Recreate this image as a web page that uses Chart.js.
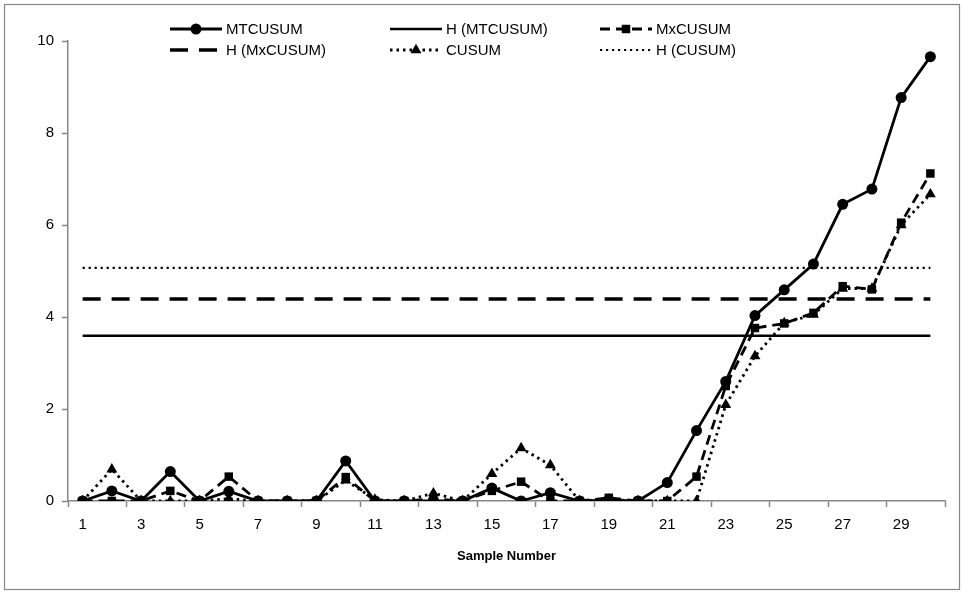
<!DOCTYPE html>
<html>
<head>
<meta charset="utf-8">
<script src="https://cdn.jsdelivr.net/npm/chart.js@4/dist/chart.umd.min.js"></script>
<style>
  html, body { margin: 0; padding: 0; background: #fff; }
  #wrap { width: 963px; height: 592px; }
</style>
</head>
<body>
<div id="wrap"><canvas id="c" width="963" height="592"></canvas></div>
<script>
// ---- data ----
const categories = ["1","2","3","4","5","6","7","8","9","10","11","12","13","14","15","16","17","18","19","20","21","22","23","24","25","26","27","28","29","30"];
const mtcusum = [0,0.22,0,0.64,0,0.21,0,0,0,0.87,0,0,0,0,0.28,0,0.18,0,0.02,0,0.4,1.53,2.6,4.03,4.59,5.15,6.45,6.78,8.77,9.66];
const mxcusum = [0,0,0,0.22,0,0.53,0,0,0,0.52,0,0,0.05,0,0.22,0.42,0,0,0.07,0,0,0.53,2.5,3.76,3.86,4.09,4.67,4.6,6.05,7.12];
const cusum   = [0,0.69,0,0,0,0.05,0,0,0,0.45,0.03,0,0.17,0,0.59,1.15,0.78,0,0.03,0,0,0,2.09,3.15,3.87,4.05,4.62,4.62,6.0,6.67];
const hMtcusum = 3.59;
const hMxcusum = 4.39;
const hCusum = 5.07;
const yTicks = [0,2,4,6,8,10];
const seriesNames = ["MTCUSUM","H (MTCUSUM)","MxCUSUM","H (MxCUSUM)","CUSUM","H (CUSUM)"];

const AXIS = '#868686';
const FONT = "'Liberation Sans', Arial, sans-serif";
const flat = v => categories.map(() => v);

const datasets = [
  { label: seriesNames[0], data: mtcusum, borderColor:'#000', backgroundColor:'#000', borderWidth:2.8,
    pointStyle:'circle', pointRadius:5.5, pointBorderWidth:0, borderDash:[] },
  { label: seriesNames[1], data: flat(hMtcusum), borderColor:'#000', backgroundColor:'#000', borderWidth:2.5,
    pointRadius:0, borderDash:[] },
  { label: seriesNames[2], data: mxcusum, borderColor:'#000', backgroundColor:'#000', borderWidth:2.8,
    pointStyle:'rect', pointRadius:6, pointBorderWidth:0, borderDash:[10,6] },
  { label: seriesNames[3], data: flat(hMxcusum), borderColor:'#000', backgroundColor:'#000', borderWidth:3.6,
    pointRadius:0, borderDash:[18,11] },
  { label: seriesNames[4], data: cusum, borderColor:'#000', backgroundColor:'#000', borderWidth:2.8,
    pointStyle:'triangle', pointRadius:6.3, pointBorderWidth:0, borderDash:[2.5,4] },
  { label: seriesNames[5], data: flat(hCusum), borderColor:'#000', backgroundColor:'#000', borderWidth:2.2,
    pointRadius:0, borderDash:[2.2,3.8] }
];
datasets.forEach(d => { d.tension = 0; d.fill = false; d.pointHoverRadius = d.pointRadius; });

const bgBorder = {
  id: 'bgBorder',
  beforeDraw(chart) {
    const ctx = chart.ctx;
    ctx.save();
    ctx.fillStyle = '#fff';
    ctx.fillRect(0, 0, chart.width, chart.height);
    ctx.strokeStyle = AXIS;
    ctx.lineWidth = 1.2;
    ctx.strokeRect(4.5, 4.5, 955, 585);
    ctx.restore();
  }
};

// legend laid out in 3 columns x 2 rows, as in the reference
const gridLegend = {
  id: 'gridLegend',
  afterDraw(chart) {
    const ctx = chart.ctx;
    const colX = [170, 390, 600];
    const rowY = [29, 50];
    const sampleLen = 52;
    ctx.save();
    ctx.font = "15px " + FONT;
    ctx.textBaseline = 'middle';
    ctx.textAlign = 'left';
    chart.data.datasets.forEach((ds, i) => {
      const x = colX[i % 3], y = rowY[Math.floor(i / 3)];
      ctx.save();
      ctx.strokeStyle = ds.borderColor;
      ctx.lineWidth = ds.borderWidth;
      ctx.setLineDash(ds.borderDash || []);
      ctx.beginPath();
      ctx.moveTo(x, y);
      ctx.lineTo(x + sampleLen, y);
      ctx.stroke();
      ctx.restore();
      if (ds.pointRadius > 0) {
        ctx.save();
        ctx.fillStyle = ds.backgroundColor;
        ctx.strokeStyle = ds.borderColor;
        Chart.helpers.drawPoint(ctx, { pointStyle: ds.pointStyle, radius: ds.pointRadius, borderWidth: 0, rotation: 0 }, x + sampleLen / 2, y);
        ctx.restore();
      }
      ctx.fillStyle = '#000';
      ctx.fillText(ds.label, x + sampleLen + 4, y + 1);
    });
    ctx.restore();
  }
};

const tickCol = c => (c.index === undefined || c.index % 2 === 0) ? AXIS : 'rgba(0,0,0,0)';

new Chart(document.getElementById('c'), {
  type: 'line',
  data: { labels: categories, datasets },
  options: {
    responsive: false,
    animation: false,
    events: [],
    layout: { padding: { top: 41, right: 18, left: 0, bottom: 0 } },
    plugins: { legend: { display: false }, tooltip: { enabled: false } },
    scales: {
      x: {
        type: 'category',
        offset: true,
        border: { display: true, color: AXIS, width: 1.5 },
        grid: { offset: true, drawOnChartArea: false, drawTicks: true, tickLength: 6, color: tickCol, tickColor: tickCol, tickWidth: 1.5 },
        ticks: { autoSkip: false, maxRotation: 0, minRotation: 0, padding: 9, color: '#000',
                 font: { family: FONT, size: 15 },
                 callback: (v, i) => (i % 2 === 0 ? categories[i] : '') },
        title: { display: true, text: 'Sample Number', color: '#000',
                 font: { family: FONT, size: 13, weight: 'bold' }, padding: { top: 0, bottom: 28 } },
        afterFit: s => { s.height = 91; }
      },
      y: {
        min: 0, max: 10,
        afterBuildTicks: s => { s.ticks = yTicks.map(v => ({ value: v })); },
        border: { display: true, color: AXIS, width: 1.5 },
        grid: { drawOnChartArea: false, drawTicks: true, tickLength: 6, color: AXIS, tickColor: AXIS, tickWidth: 1.5 },
        ticks: { padding: 8, color: '#000', font: { family: FONT, size: 15 } },
        afterFit: s => { s.width = 68; }
      }
    }
  },
  plugins: [bgBorder, gridLegend]
});
</script>
</body>
</html>
